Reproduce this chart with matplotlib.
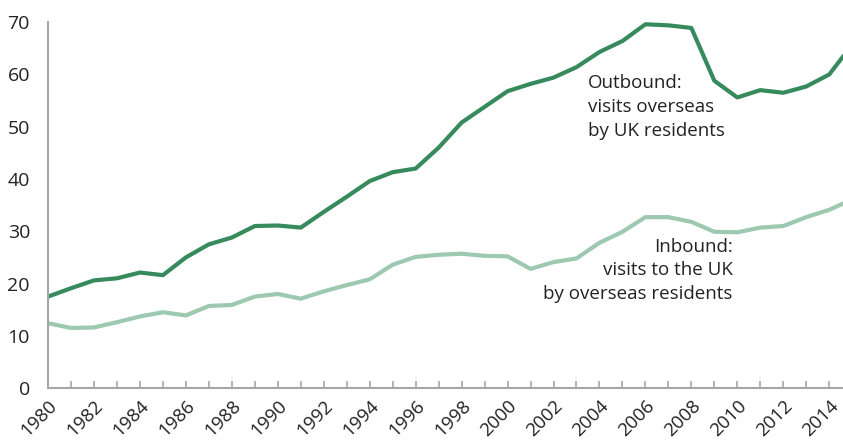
import matplotlib
matplotlib.use("Agg")
import matplotlib.pyplot as plt

plt.rcParams['font.family'] = ['Open Sans', 'DejaVu Sans']

years = list(range(1980, 2016))
outbound = [17.5, 19.1, 20.6, 21.0, 22.1, 21.6, 25.0, 27.5, 28.8, 31.0,
            31.1, 30.7, 33.7, 36.6, 39.6, 41.3, 42.0, 46.0, 50.8, 53.8,
            56.8, 58.2, 59.4, 61.4, 64.3, 66.4, 69.6, 69.4, 68.9, 58.8,
            55.6, 57.0, 56.5, 57.7, 60.0, 65.7]
inbound = [12.4, 11.5, 11.6, 12.6, 13.7, 14.5, 13.9, 15.7, 15.9, 17.5,
           18.0, 17.1, 18.5, 19.7, 20.8, 23.6, 25.1, 25.5, 25.7, 25.3,
           25.2, 22.8, 24.1, 24.8, 27.8, 29.9, 32.7, 32.7, 31.8, 29.9,
           29.8, 30.7, 31.0, 32.7, 34.1, 36.1]
tick_years = list(range(1980, 2015, 2))

DARK = '#368a5c'
LIGHT = '#9cc9af'
AXIS = '#a6a6a6'
TXT = '#222222'

fig = plt.figure(figsize=(8.43, 4.44), dpi=100)
ax = fig.add_axes([0.057, 0.126, 0.943, 0.824])

ax.plot(years, inbound, color=LIGHT, lw=3.0, solid_capstyle='butt')
ax.plot(years, outbound, color=DARK, lw=3.0, solid_capstyle='butt')

ax.set_xlim(1980, 2014.6)
ax.set_ylim(0, 70)
ax.set_yticks(range(0, 71, 10))
ax.set_xticks(years[:-1], minor=True)
ax.set_xticks(tick_years)
ax.set_xticklabels([str(y) for y in tick_years], rotation=45, ha='right',
                   rotation_mode='anchor')

for s in ['top', 'right']:
    ax.spines[s].set_visible(False)
for s in ['left', 'bottom']:
    ax.spines[s].set_color(AXIS)
    ax.spines[s].set_linewidth(1.5)

ax.tick_params(axis='x', which='both', direction='in', length=5, width=1.2,
               color=AXIS, labelsize=13.5, labelcolor=TXT, pad=6)
ax.tick_params(axis='y', length=0, labelsize=14, labelcolor=TXT, pad=13)

ax.text(2003.5, 60, 'Outbound:\nvisits overseas\nby UK residents',
        fontsize=13.5, color=TXT, ha='left', va='top', linespacing=1.4)
ax.text(2009.8, 28.8, 'Inbound:\nvisits to the UK\nby overseas residents',
        fontsize=13.5, color=TXT, ha='right', va='top', linespacing=1.4,
        multialignment='right')

fig.savefig('out.png', dpi=100)
